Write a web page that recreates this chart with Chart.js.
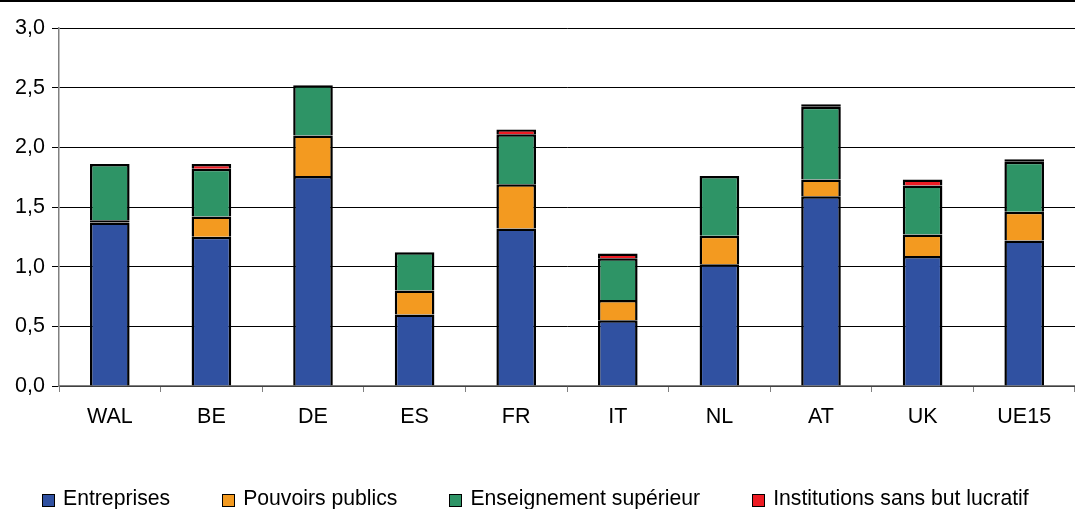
<!DOCTYPE html>
<html>
<head>
<meta charset="utf-8">
<script src="https://cdn.jsdelivr.net/npm/chart.js@4/dist/chart.umd.min.js"></script>
<style>
    html, body { margin: 0; padding: 0; background: #fff; }
    #wrap { width: 1075px; height: 509px; position: relative; box-sizing: border-box; border-top: 2px solid #000; }
    #legend {
        position: absolute; left: 42px; top: 483px; height: 26px; white-space: nowrap;
        display: flex; align-items: center;
        font-family: 'Liberation Sans', Arial, sans-serif; font-size: 21.2px; line-height: 26px; color: #000;
    }
    .legend-item { display: flex; align-items: center; margin-right: 52px; flex: none; }
    .legend-box { width: 11px; height: 11px; border: 1px solid #000; margin-right: 8px; position: relative; top: 2px; }
</style>
</head>
<body>
<div id="wrap">
    <canvas id="chart"></canvas>
    <div id="legend"></div>
</div>
<script>
// Data
const categories = ['WAL', 'BE', 'DE', 'ES', 'FR', 'IT', 'NL', 'AT', 'UK', 'UE15'];
const entreprises = [1.37, 1.25, 1.76, 0.60, 1.32, 0.55, 1.02, 1.59, 1.09, 1.22];
const pouvoirsPublics = [0.02, 0.17, 0.34, 0.20, 0.37, 0.17, 0.24, 0.14, 0.18, 0.24];
const enseignementSup = [0.47, 0.40, 0.42, 0.32, 0.42, 0.35, 0.50, 0.61, 0.41, 0.42];
const institutions = [0, 0.04, 0, 0, 0.04, 0.04, 0, 0.02, 0.05, 0.02];
const yTicks = [0, 0.5, 1, 1.5, 2, 2.5, 3];

const FONT = 'Liberation Sans, Arial, sans-serif';
const FONT_SIZE = 21.5;

function series(label, data, color) {
    return {
        label: label,
        data: data,
        backgroundColor: color,
        borderColor: '#000',
        borderWidth: 2.5,
        // very thin slices get a full outline so they read as a dark line, as in the original
        borderSkipped: c => (c.raw > 0 && c.raw < 0.03) ? false : 'start',
        inflateAmount: 0,
        categoryPercentage: 1,
        barPercentage: 0.39
    };
}

const datasets = [
    series('Entreprises', entreprises, '#3051a1'),
    series('Pouvoirs publics', pouvoirsPublics, '#f39a20'),
    series('Enseignement supérieur', enseignementSup, '#2e9466'),
    series('Institutions sans but lucratif', institutions, '#ee1c24')
];

const ctx = document.getElementById('chart').getContext('2d');
const chart = new Chart(ctx, {
    type: 'bar',
    data: { labels: categories, datasets: datasets },
    options: {
        responsive: true,
        maintainAspectRatio: false,
        animation: false,
        layout: { padding: { top: 26, right: 0, left: 0, bottom: 73 } },
        plugins: {
            tooltip: { enabled: false },
            legend: { display: false }
        },
        scales: {
            x: {
                stacked: true,
                grid: { drawOnChartArea: false, drawTicks: true, tickLength: 6, color: '#808080', offset: true },
                border: { color: '#808080', width: 1.5 },
                ticks: { color: '#000', font: { family: FONT, size: FONT_SIZE }, padding: 12 },
                afterFit: function (scale) { scale.height = 50; }
            },
            y: {
                stacked: true,
                min: 0,
                max: 3,
                afterBuildTicks: function (scale) { scale.ticks = yTicks.map(v => ({ value: v })); },
                grid: { color: '#000', lineWidth: 1, tickLength: 7 },
                border: { color: '#808080', width: 1.5 },
                ticks: {
                    color: '#000',
                    font: { family: FONT, size: FONT_SIZE },
                    padding: 7,
                    callback: v => v.toFixed(1).replace('.', ',')
                },
                afterFit: function (scale) { scale.width = 59; }
            }
        }
    }
});

// Legend built from the chart's datasets
const legendEl = document.getElementById('legend');
chart.data.datasets.forEach(ds => {
    const item = document.createElement('div');
    item.className = 'legend-item';
    item.innerHTML = `<span class="legend-box" style="background:${ds.backgroundColor}"></span><span>${ds.label}</span>`;
    legendEl.appendChild(item);
});
</script>
</body>
</html>
